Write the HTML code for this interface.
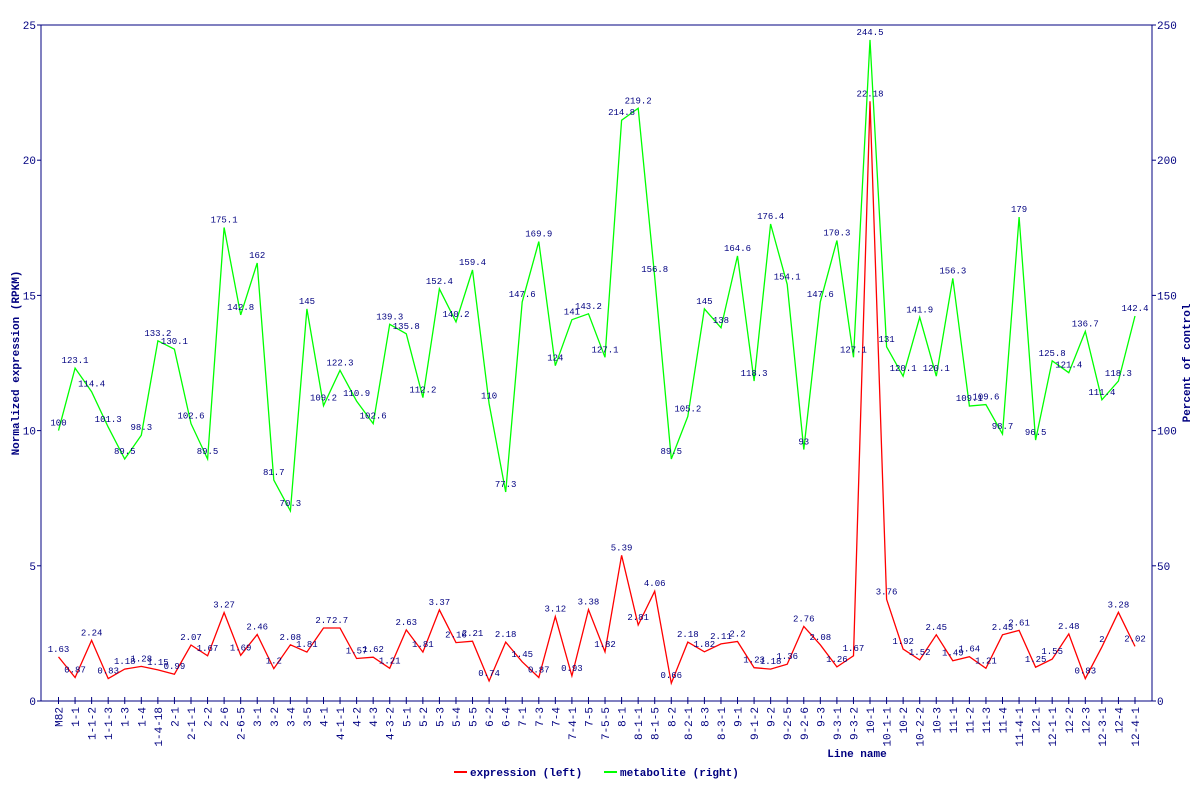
<!DOCTYPE html>
<html><head><meta charset="utf-8"><style>
body{margin:0;background:#fff;}
svg text{font-family:"Liberation Mono","DejaVu Sans Mono",monospace;fill:#000080;}
</style></head><body>
<svg id="c" width="1200" height="800" xmlns="http://www.w3.org/2000/svg"></svg>
<script>
const names="M82,1-1,1-1-2,1-1-3,1-3,1-4,1-4-18,2-1,2-1-1,2-2,2-6,2-6-5,3-1,3-2,3-4,3-5,4-1,4-1-1,4-2,4-3,4-3-2,5-1,5-2,5-3,5-4,5-5,6-2,6-4,7-1,7-3,7-4,7-4-1,7-5,7-5-5,8-1,8-1-1,8-1-5,8-2,8-2-1,8-3,8-3-1,9-1,9-1-2,9-2,9-2-5,9-2-6,9-3,9-3-1,9-3-2,10-1,10-1-1,10-2,10-2-2,10-3,11-1,11-2,11-3,11-4,11-4-1,12-1,12-1-1,12-2,12-3,12-3-1,12-4,12-4-1".split(",");
const ex=[1.63,0.87,2.24,0.83,1.18,1.28,1.15,0.99,2.07,1.67,3.27,1.69,2.46,1.2,2.08,1.81,2.7,2.7,1.57,1.62,1.21,2.63,1.81,3.37,2.16,2.21,0.74,2.18,1.45,0.87,3.12,0.93,3.38,1.82,5.39,2.81,4.06,0.66,2.18,1.82,2.11,2.2,1.23,1.18,1.36,2.76,2.08,1.26,1.67,22.18,3.76,1.92,1.52,2.45,1.49,1.64,1.21,2.45,2.61,1.25,1.55,2.48,0.83,2,3.28,2.02];
const me=[100,123.1,114.4,101.3,89.5,98.3,133.2,130.1,102.6,89.5,175.1,142.8,162,81.7,70.3,145,109.2,122.3,110.9,102.6,139.3,135.8,112.2,152.4,140.2,159.4,110,77.3,147.6,169.9,124,141,143.2,127.1,214.8,219.2,156.8,89.5,105.2,145,138,164.6,118.3,176.4,154.1,93,147.6,170.3,127.1,244.5,131,120.1,141.9,120.1,156.3,109.1,109.6,98.7,179,96.5,125.8,121.4,136.7,111.4,118.3,142.4];
const L=41,R=1152,T=25,B=701,H=B-T;
const X=i=>58.5+i*(1135-58.5)/65;
const YL=v=>B-v/25*H, YR=v=>B-v/250*H;
let s='';
s+=`<rect x="${L}" y="${T}" width="${R-L}" height="${H}" fill="none" stroke="#000080" stroke-width="1"/>`;
for(let k=0;k<=5;k++){const y=YL(k*5);
 s+=`<line x1="${L-4}" y1="${y}" x2="${L}" y2="${y}" stroke="#000080"/>`;
 s+=`<line x1="${R}" y1="${y}" x2="${R+4}" y2="${y}" stroke="#000080"/>`;
 s+=`<text x="${L-5}" y="${y+4}" font-size="11" text-anchor="end">${k*5}</text>`;
 s+=`<text x="${R+5}" y="${y+4}" font-size="11">${k*50}</text>`;}
names.forEach((n,i)=>{const x=X(i);
 s+=`<line x1="${x}" y1="${B-4}" x2="${x}" y2="${B+3}" stroke="#000080"/>`;
 s+=`<text transform="translate(${x+4},${B+6}) rotate(-90)" font-size="11" text-anchor="end">${n}</text>`;});
const pl=(a,f)=>a.map((v,i)=>X(i).toFixed(1)+','+f(v).toFixed(1)).join(' ');
s+=`<polyline points="${pl(me,YR)}" fill="none" stroke="#00ff00" stroke-width="1.3"/>`;
s+=`<polyline points="${pl(ex,YL)}" fill="none" stroke="#ff0000" stroke-width="1.3"/>`;
me.forEach((v,i)=>{s+=`<text x="${X(i)}" y="${YR(v)-5}" font-size="9" text-anchor="middle">${v}</text>`;});
ex.forEach((v,i)=>{s+=`<text x="${X(i)}" y="${YL(v)-5}" font-size="9" text-anchor="middle">${v}</text>`;});
s+=`<text transform="translate(19,363) rotate(-90)" font-size="11" font-weight="bold" text-anchor="middle">Normalized expression (RPKM)</text>`;
s+=`<text transform="translate(1190,363) rotate(-90)" font-size="11" font-weight="bold" text-anchor="middle">Percent of control</text>`;
s+=`<text x="857" y="757" font-size="11" font-weight="bold" text-anchor="middle">Line name</text>`;
s+=`<line x1="454" y1="772" x2="467" y2="772" stroke="#ff0000" stroke-width="2"/>`;
s+=`<text x="470" y="776" font-size="11" font-weight="bold">expression (left)</text>`;
s+=`<line x1="604" y1="772" x2="617" y2="772" stroke="#00ff00" stroke-width="2"/>`;
s+=`<text x="620" y="776" font-size="11" font-weight="bold">metabolite (right)</text>`;
document.getElementById('c').innerHTML=s;
</script>
</body></html>
